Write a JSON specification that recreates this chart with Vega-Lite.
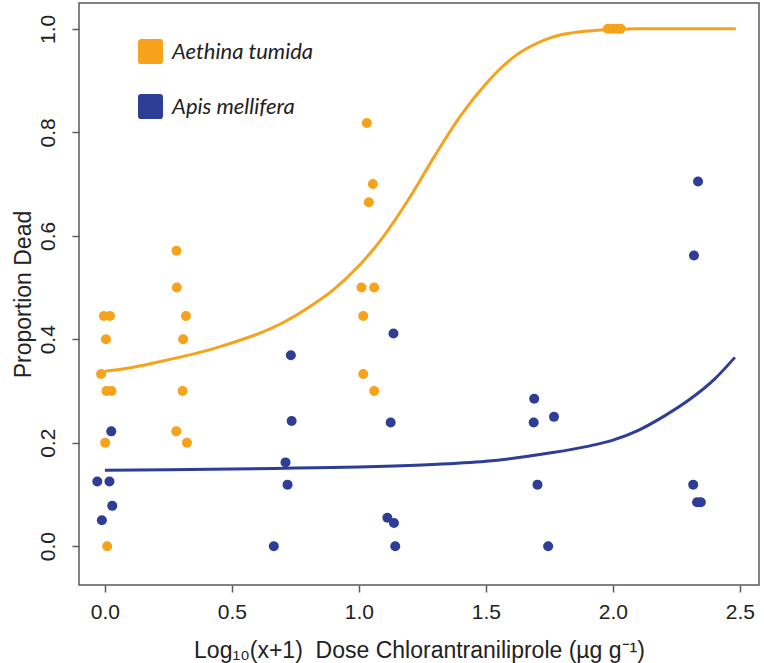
{
  "$schema": "https://vega.github.io/schema/vega-lite/v6.json",
  "width": 680,
  "height": 582,
  "autosize": {"type": "none"},
  "padding": {"left": 79, "top": 3, "right": 5, "bottom": 78},
  "background": "white",
  "config": {
    "view": {"stroke": "#5a5a5a", "strokeWidth": 1.5},
    "axis": {
      "grid": false,
      "domain": false,
      "tickColor": "#5a5a5a",
      "tickWidth": 1.5,
      "tickSize": 7,
      "labelFont": "Liberation Sans",
      "labelFontSize": 21,
      "labelColor": "#222222",
      "titleFont": "Liberation Sans",
      "titleFontSize": 23,
      "titleFontWeight": "normal",
      "titleColor": "#222222"
    },
    "legend": {
      "orient": "none",
      "legendX": 59,
      "legendY": 36,
      "padding": 0,
      "title": null,
      "labelFont": "Lato",
      "labelFontSize": 22,
      "labelFontStyle": "italic",
      "labelColor": "#222222",
      "labelOffset": 9,
      "rowPadding": 30,
      "symbolSize": 625,
      "symbolStrokeWidth": 0,
      "symbolType": "M -0.75 -1 L 0.75 -1 Q 1 -1 1 -0.75 L 1 0.75 Q 1 1 0.75 1 L -0.75 1 Q -1 1 -1 0.75 L -1 -0.75 Q -1 -1 -0.75 -1 Z"
    }
  },
  "datasets": {
    "points": [
      {"species": "Aethina tumida", "dose": -0.004, "dead": 0.445},
      {"species": "Aethina tumida", "dose": 0.020, "dead": 0.445},
      {"species": "Aethina tumida", "dose": 0.004, "dead": 0.400},
      {"species": "Aethina tumida", "dose": -0.015, "dead": 0.333},
      {"species": "Aethina tumida", "dose": 0.006, "dead": 0.300},
      {"species": "Aethina tumida", "dose": 0.026, "dead": 0.300},
      {"species": "Aethina tumida", "dose": 0.001, "dead": 0.200},
      {"species": "Aethina tumida", "dose": 0.009, "dead": 0.000},
      {"species": "Aethina tumida", "dose": 0.282, "dead": 0.571},
      {"species": "Aethina tumida", "dose": 0.283, "dead": 0.500},
      {"species": "Aethina tumida", "dose": 0.319, "dead": 0.445},
      {"species": "Aethina tumida", "dose": 0.308, "dead": 0.400},
      {"species": "Aethina tumida", "dose": 0.306, "dead": 0.300},
      {"species": "Aethina tumida", "dose": 0.281, "dead": 0.222},
      {"species": "Aethina tumida", "dose": 0.323, "dead": 0.200},
      {"species": "Aethina tumida", "dose": 1.031, "dead": 0.818},
      {"species": "Aethina tumida", "dose": 1.055, "dead": 0.700},
      {"species": "Aethina tumida", "dose": 1.039, "dead": 0.665},
      {"species": "Aethina tumida", "dose": 1.010, "dead": 0.500},
      {"species": "Aethina tumida", "dose": 1.060, "dead": 0.500},
      {"species": "Aethina tumida", "dose": 1.017, "dead": 0.445},
      {"species": "Aethina tumida", "dose": 1.017, "dead": 0.333},
      {"species": "Aethina tumida", "dose": 1.060, "dead": 0.300},
      {"species": "Aethina tumida", "dose": 1.980, "dead": 1.000},
      {"species": "Aethina tumida", "dose": 2.000, "dead": 1.000},
      {"species": "Aethina tumida", "dose": 2.015, "dead": 1.000},
      {"species": "Aethina tumida", "dose": 2.030, "dead": 1.000},
      {"species": "Apis mellifera", "dose": 0.025, "dead": 0.222},
      {"species": "Apis mellifera", "dose": -0.030, "dead": 0.125},
      {"species": "Apis mellifera", "dose": 0.018, "dead": 0.125},
      {"species": "Apis mellifera", "dose": 0.029, "dead": 0.078},
      {"species": "Apis mellifera", "dose": -0.012, "dead": 0.050},
      {"species": "Apis mellifera", "dose": 0.732, "dead": 0.369},
      {"species": "Apis mellifera", "dose": 0.735, "dead": 0.242},
      {"species": "Apis mellifera", "dose": 0.711, "dead": 0.162},
      {"species": "Apis mellifera", "dose": 0.719, "dead": 0.119},
      {"species": "Apis mellifera", "dose": 0.665, "dead": 0.000},
      {"species": "Apis mellifera", "dose": 1.136, "dead": 0.411},
      {"species": "Apis mellifera", "dose": 1.125, "dead": 0.239},
      {"species": "Apis mellifera", "dose": 1.112, "dead": 0.055},
      {"species": "Apis mellifera", "dose": 1.138, "dead": 0.045},
      {"species": "Apis mellifera", "dose": 1.143, "dead": 0.000},
      {"species": "Apis mellifera", "dose": 1.690, "dead": 0.285},
      {"species": "Apis mellifera", "dose": 1.688, "dead": 0.239},
      {"species": "Apis mellifera", "dose": 1.768, "dead": 0.250},
      {"species": "Apis mellifera", "dose": 1.703, "dead": 0.119},
      {"species": "Apis mellifera", "dose": 1.745, "dead": 0.000},
      {"species": "Apis mellifera", "dose": 2.335, "dead": 0.705},
      {"species": "Apis mellifera", "dose": 2.319, "dead": 0.562},
      {"species": "Apis mellifera", "dose": 2.316, "dead": 0.119},
      {"species": "Apis mellifera", "dose": 2.331, "dead": 0.085},
      {"species": "Apis mellifera", "dose": 2.346, "dead": 0.085}
    ],
    "curves": [
      {"species": "Aethina tumida", "dose": 0.0, "fit": 0.338},
      {"species": "Aethina tumida", "dose": 0.1, "fit": 0.345},
      {"species": "Aethina tumida", "dose": 0.2, "fit": 0.355},
      {"species": "Aethina tumida", "dose": 0.3, "fit": 0.366},
      {"species": "Aethina tumida", "dose": 0.4, "fit": 0.378},
      {"species": "Aethina tumida", "dose": 0.5, "fit": 0.393},
      {"species": "Aethina tumida", "dose": 0.6, "fit": 0.410},
      {"species": "Aethina tumida", "dose": 0.7, "fit": 0.432},
      {"species": "Aethina tumida", "dose": 0.8, "fit": 0.461},
      {"species": "Aethina tumida", "dose": 0.9, "fit": 0.496},
      {"species": "Aethina tumida", "dose": 1.0, "fit": 0.542},
      {"species": "Aethina tumida", "dose": 1.1, "fit": 0.601},
      {"species": "Aethina tumida", "dose": 1.2, "fit": 0.674},
      {"species": "Aethina tumida", "dose": 1.3, "fit": 0.756},
      {"species": "Aethina tumida", "dose": 1.4, "fit": 0.832},
      {"species": "Aethina tumida", "dose": 1.5, "fit": 0.894},
      {"species": "Aethina tumida", "dose": 1.55, "fit": 0.920},
      {"species": "Aethina tumida", "dose": 1.6, "fit": 0.942},
      {"species": "Aethina tumida", "dose": 1.65, "fit": 0.959},
      {"species": "Aethina tumida", "dose": 1.7, "fit": 0.972},
      {"species": "Aethina tumida", "dose": 1.75, "fit": 0.982},
      {"species": "Aethina tumida", "dose": 1.8, "fit": 0.989},
      {"species": "Aethina tumida", "dose": 1.9, "fit": 0.996},
      {"species": "Aethina tumida", "dose": 2.0, "fit": 0.999},
      {"species": "Aethina tumida", "dose": 2.1, "fit": 1.0},
      {"species": "Aethina tumida", "dose": 2.2, "fit": 1.0},
      {"species": "Aethina tumida", "dose": 2.3, "fit": 1.0},
      {"species": "Aethina tumida", "dose": 2.4, "fit": 1.0},
      {"species": "Aethina tumida", "dose": 2.484, "fit": 1.0},
      {"species": "Apis mellifera", "dose": 0.0, "fit": 0.147},
      {"species": "Apis mellifera", "dose": 0.25, "fit": 0.148},
      {"species": "Apis mellifera", "dose": 0.5, "fit": 0.149},
      {"species": "Apis mellifera", "dose": 0.75, "fit": 0.151},
      {"species": "Apis mellifera", "dose": 1.0, "fit": 0.153},
      {"species": "Apis mellifera", "dose": 1.25, "fit": 0.157},
      {"species": "Apis mellifera", "dose": 1.5, "fit": 0.164},
      {"species": "Apis mellifera", "dose": 1.75, "fit": 0.180},
      {"species": "Apis mellifera", "dose": 1.9, "fit": 0.193},
      {"species": "Apis mellifera", "dose": 2.0, "fit": 0.205},
      {"species": "Apis mellifera", "dose": 2.1, "fit": 0.224},
      {"species": "Apis mellifera", "dose": 2.2, "fit": 0.251},
      {"species": "Apis mellifera", "dose": 2.3, "fit": 0.283},
      {"species": "Apis mellifera", "dose": 2.4, "fit": 0.323},
      {"species": "Apis mellifera", "dose": 2.48, "fit": 0.365}
    ]
  },
  "resolve": {"scale": {"color": "independent"}, "legend": {"color": "independent"}},
  "layer": [
    {
      "data": {"name": "curves"},
      "mark": {"type": "line", "strokeWidth": 3, "interpolate": "monotone", "clip": true},
      "encoding": {
        "x": {
          "field": "dose", "type": "quantitative",
          "scale": {"domain": [-0.102, 2.575], "nice": false, "zero": false},
          "axis": {
            "values": [0, 0.5, 1, 1.5, 2, 2.5],
            "format": ".1f",
            "labelPadding": 9,
            "title": "Log₁₀(x+1)\u00a0\u00a0Dose Chlorantraniliprole (µg g⁻¹)",
            "titleY": 65,
            "titleBaseline": "middle"
          }
        },
        "y": {
          "field": "fit", "type": "quantitative",
          "scale": {"domain": [-0.075, 1.05], "nice": false, "zero": false},
          "axis": {
            "values": [0, 0.2, 0.4, 0.6, 0.8, 1.0],
            "format": ".1f",
            "labelAngle": -90,
            "labelAlign": "center",
            "labelBaseline": "alphabetic",
            "labelPadding": 18,
            "title": "Proportion Dead",
            "titleX": -49,
            "titleY": 291,
            "titleAngle": -90,
            "titleAlign": "center",
            "titleBaseline": "alphabetic"
          }
        },
        "color": {
          "field": "species", "type": "nominal",
          "scale": {"domain": ["Aethina tumida", "Apis mellifera"], "range": ["#F7A21B", "#2E3D96"]},
          "legend": null
        },
        "detail": {"field": "species"}
      }
    },
    {
      "data": {"name": "points"},
      "mark": {"type": "circle", "size": 100, "opacity": 1},
      "encoding": {
        "x": {"field": "dose", "type": "quantitative"},
        "y": {"field": "dead", "type": "quantitative"},
        "color": {
          "field": "species", "type": "nominal",
          "scale": {"domain": ["Aethina tumida", "Apis mellifera"], "range": ["#F7A21B", "#2E3D96"]},
          "legend": {"symbolOpacity": 1}
        }
      }
    }
  ]
}
